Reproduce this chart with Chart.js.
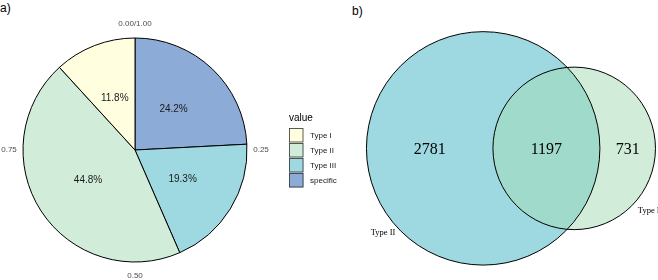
<!DOCTYPE html>
<html>
<head>
<meta charset="utf-8">
<script src="https://cdn.jsdelivr.net/npm/chart.js@4"></script>
<style>
    body { margin: 0; width: 658px; height: 280px; position: relative; background: #fff; overflow: hidden; font-family: "Liberation Sans", Arial, sans-serif; }
    #pieWrap { position: absolute; left: 0; top: 0; width: 350px; height: 280px; }
    #vennWrap { position: absolute; left: 350px; top: 0; width: 308px; height: 280px; }
    .tag { position: absolute; font-size: 12px; color: #000; line-height: 14px; }
</style>
</head>
<body>
<div class="tag" style="left:0px;top:1px">a)</div>
<div class="tag" style="left:352px;top:4px">b)</div>
<div id="pieWrap"><canvas id="pieChart"></canvas></div>
<div id="vennWrap"><canvas id="vennChart"></canvas></div>
<script>
// pie data (legend order)
const categories = ['Type I', 'Type II', 'Type III', 'specific'];
const shares = [11.8, 44.8, 19.3, 24.2];
const fills = ['#FFFFE0', '#D1EDDA', '#9ED9E1', '#8CABD6'];
const angleTicks = [0, 0.25, 0.5, 0.75];
const angleTickLabels = ['0.00/1.00', '0.25', '0.50', '0.75'];

// venn data
const vennSets = ['Type II', 'Type I'];
const vennOnly = [2781, 731];
const vennBoth = 1197;
const vennFills = ['rgba(61,179,195,0.5)', 'rgba(163,219,181,0.5)'];

function initPie() {
    // ggplot stacks in reverse, so clockwise from the top: specific, Type III, Type II, Type I
    const order = [3, 2, 1, 0];

    const pieLabels = {
        id: 'pieLabels',
        afterDatasetsDraw(chart) {
            const ctx = chart.ctx;
            const meta = chart.getDatasetMeta(0);
            const cx = meta.data[0].x, cy = meta.data[0].y, R = meta.data[0].outerRadius;
            ctx.save();
            ctx.textAlign = 'center';
            ctx.textBaseline = 'middle';

            ctx.fillStyle = '#1a1a1a';
            ctx.font = '10px "Liberation Sans"';
            meta.data.forEach((arc, i) => {
                const p = arc.tooltipPosition();
                ctx.fillText(chart.data.datasets[0].data[i].toFixed(1) + '%', p.x, p.y);
            });

            ctx.fillStyle = '#4d4d4d';
            ctx.font = '8px "Liberation Sans"';
            angleTicks.forEach((t, i) => {
                const a = t * 2 * Math.PI;
                const r = R + 14;
                ctx.fillText(angleTickLabels[i], cx + r * Math.sin(a), cy - r * Math.cos(a));
            });

            // legend
            ctx.textAlign = 'left';
            ctx.textBaseline = 'alphabetic';
            ctx.fillStyle = '#000';
            ctx.font = '10px "Liberation Sans"';
            ctx.fillText('value', 289, 121);
            ctx.font = '8px "Liberation Sans"';
            ctx.textBaseline = 'middle';
            categories.forEach((c, i) => {
                const y = 128 + i * 15;
                ctx.fillStyle = fills[i];
                ctx.fillRect(289, y, 14.5, 14.5);
                ctx.strokeStyle = '#333';
                ctx.lineWidth = 0.8;
                ctx.strokeRect(289.5, y + 0.5, 13.5, 13.5);
                ctx.fillStyle = '#1a1a1a';
                ctx.fillText(c, 310, y + 7.5);
            });
            ctx.restore();
        }
    };

    new Chart(document.getElementById('pieChart'), {
        type: 'pie',
        data: {
            labels: order.map(i => categories[i]),
            datasets: [{
                data: order.map(i => shares[i]),
                backgroundColor: order.map(i => fills[i]),
                borderColor: '#000',
                borderWidth: 1
            }]
        },
        options: {
            responsive: true,
            maintainAspectRatio: false,
            animation: false,
            devicePixelRatio: 1,
            layout: { padding: { left: 22.5, top: 37.5, right: 102.5, bottom: 17.5 } },
            plugins: { legend: { display: false }, tooltip: { enabled: false } }
        },
        plugins: [pieLabels]
    });
}

function initVenn() {
    // circle areas follow set sizes, distance solved from the overlap size
    const rBig = Math.sqrt((vennOnly[0] + vennBoth) / Math.PI);
    const rSmall = Math.sqrt((vennOnly[1] + vennBoth) / Math.PI);

    function lensArea(d, r1, r2) {
        const a1 = Math.acos((d * d + r1 * r1 - r2 * r2) / (2 * d * r1));
        const a2 = Math.acos((d * d + r2 * r2 - r1 * r1) / (2 * d * r2));
        const k = Math.sqrt((-d + r1 + r2) * (d + r1 - r2) * (d - r1 + r2) * (d + r1 + r2));
        return r1 * r1 * a1 + r2 * r2 * a2 - 0.5 * k;
    }
    let lo = rBig - rSmall + 1e-6, hi = rBig + rSmall - 1e-6;
    for (let i = 0; i < 60; i++) {
        const mid = (lo + hi) / 2;
        if (lensArea(mid, rBig, rSmall) > vennBoth) lo = mid; else hi = mid;
    }
    const dist = (lo + hi) / 2;

    const circles = [
        { x: 0, y: 0, r: rBig },
        { x: dist, y: 0, r: rSmall }
    ];

    function pxRadius(chart, r) {
        const s = chart.scales.x;
        return Math.abs(s.getPixelForValue(r) - s.getPixelForValue(0));
    }

    const vennText = {
        id: 'vennText',
        afterDatasetsDraw(chart) {
            const ctx = chart.ctx;
            const xs = chart.scales.x, ys = chart.scales.y;
            const py = ys.getPixelForValue(0);
            const leftBig = -rBig, leftSmall = dist - rSmall, rightBig = rBig, rightSmall = dist + rSmall;
            const counts = [vennOnly[0], vennBoth, vennOnly[1]];
            const mids = [(leftBig + leftSmall) / 2, (leftSmall + rightBig) / 2, (rightBig + rightSmall) / 2];
            ctx.save();
            ctx.fillStyle = '#000';
            ctx.textAlign = 'center';
            ctx.textBaseline = 'middle';
            ctx.font = '16px "Liberation Serif"';
            counts.forEach((c, i) => ctx.fillText(String(c), xs.getPixelForValue(mids[i]), py + 1));

            // set names
            ctx.font = '8.5px "Liberation Serif"';
            const catAngles = [230, 130];
            const catGap = [14, 16];
            circles.forEach((c, i) => {
                const a = catAngles[i] * Math.PI / 180;
                const r = pxRadius(chart, c.r) + catGap[i];
                const cx = xs.getPixelForValue(c.x), cy = ys.getPixelForValue(c.y);
                ctx.fillText(vennSets[i], cx + r * Math.sin(a), cy - r * Math.cos(a));
            });
            ctx.restore();
        }
    };

    new Chart(document.getElementById('vennChart'), {
        type: 'scatter',
        data: {
            datasets: [
                {
                    data: circles,
                    order: 2,
                    backgroundColor: vennFills,
                    borderWidth: 0,
                    pointRadius: ctx => pxRadius(ctx.chart, ctx.raw.r),
                    pointHoverRadius: ctx => pxRadius(ctx.chart, ctx.raw.r)
                },
                {
                    data: circles,
                    order: 1,
                    backgroundColor: 'rgba(0,0,0,0)',
                    borderColor: '#000',
                    borderWidth: 1,
                    pointRadius: ctx => pxRadius(ctx.chart, ctx.raw.r),
                    pointHoverRadius: ctx => pxRadius(ctx.chart, ctx.raw.r)
                }
            ]
        },
        options: {
            responsive: true,
            maintainAspectRatio: false,
            animation: false,
            devicePixelRatio: 1,
            events: [],
            layout: { padding: 0 },
            scales: {
                x: { type: 'linear', display: false, min: -40.6, max: 53.3 },
                y: { type: 'linear', display: false, min: -40.1, max: 45.2 }
            },
            plugins: { legend: { display: false }, tooltip: { enabled: false } }
        },
        plugins: [vennText]
    });
}

initPie();
initVenn();
</script>
</body>
</html>
